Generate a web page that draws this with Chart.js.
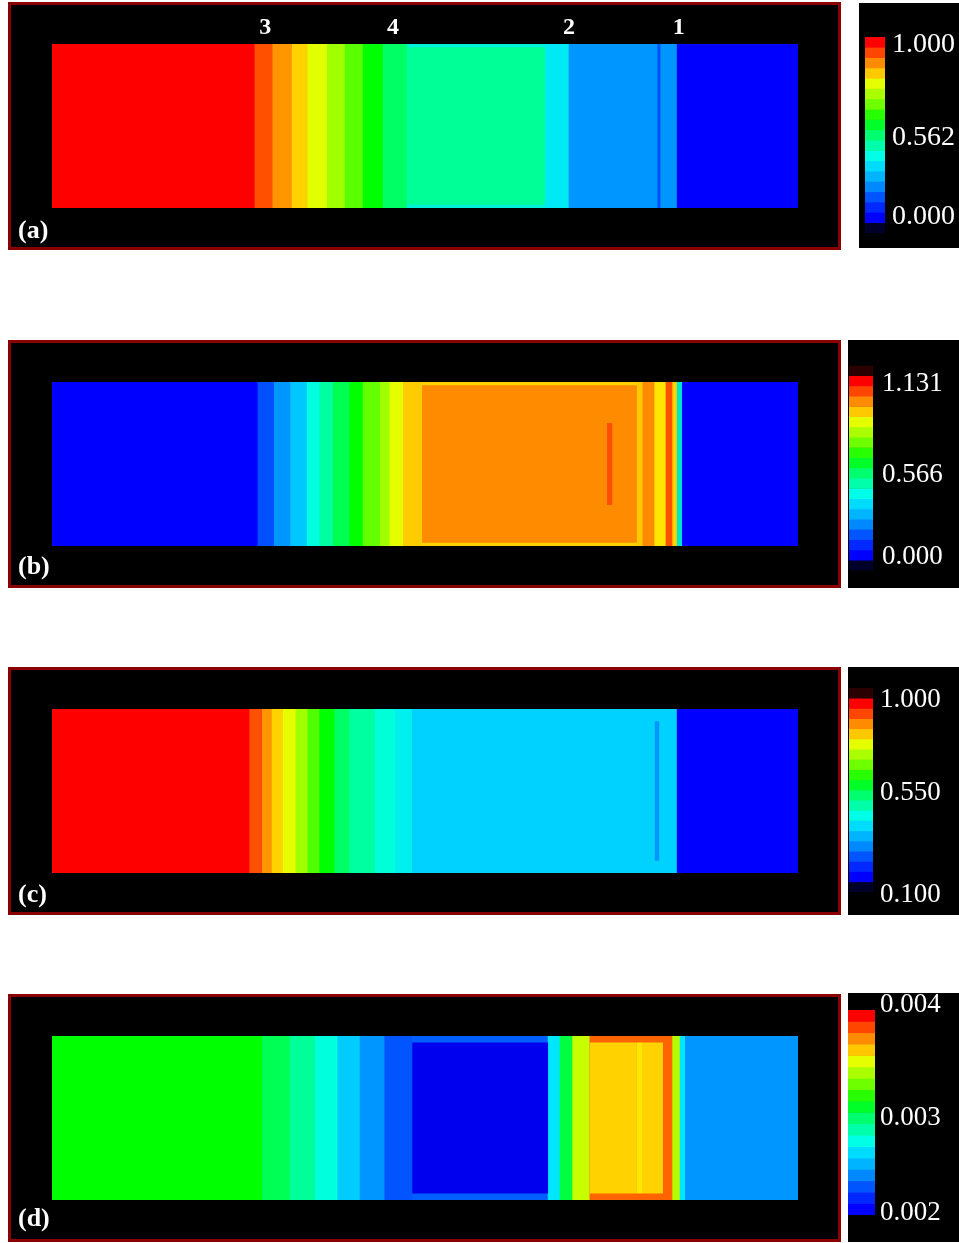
<!DOCTYPE html>
<html>
<head>
<meta charset="utf-8">
<title>Shock tube contours (a)-(d)</title>
<script src="https://cdn.jsdelivr.net/npm/chart.js@4.4.1/dist/chart.umd.min.js"></script>
<style>
  html, body { margin: 0; padding: 0; background: #fff; }
  body { width: 959px; height: 1243px; position: relative; overflow: hidden; }
  .panel { position: absolute; left: 8px; width: 833px; height: 248px; box-sizing: border-box;
           border: 3px solid #8b0000; background: #000; }
  .cbox { position: absolute; background: #000; }
  .holder { position: absolute; }
</style>
</head>
<body>

<div class="panel" style="top:2px"><div class="holder" style="left:0;top:0;width:827px;height:242px"><canvas id="fieldA"></canvas></div></div>
<div class="panel" style="top:340px"><div class="holder" style="left:0;top:0;width:827px;height:242px"><canvas id="fieldB"></canvas></div></div>
<div class="panel" style="top:667px"><div class="holder" style="left:0;top:0;width:827px;height:242px"><canvas id="fieldC"></canvas></div></div>
<div class="panel" style="top:994px"><div class="holder" style="left:0;top:0;width:827px;height:242px"><canvas id="fieldD"></canvas></div></div>

<div class="cbox" style="left:859px;top:3px;width:100px;height:245px"></div>
<div class="cbox" style="left:848px;top:340px;width:111px;height:248px"></div>
<div class="cbox" style="left:848px;top:667px;width:111px;height:248px"></div>
<div class="cbox" style="left:848px;top:993px;width:111px;height:249px"></div>

<div class="holder" id="barAbox"><canvas id="barA"></canvas></div>
<div class="holder" id="barBbox"><canvas id="barB"></canvas></div>
<div class="holder" id="barCbox"><canvas id="barC"></canvas></div>
<div class="holder" id="barDbox"><canvas id="barD"></canvas></div>

<script>
// positions are % of tube length (left end = 0, right end = 100)

// (a) contour bands
const aEdges  = [0, 27.2, 29.6, 32.2, 34.3, 36.9, 39.3, 41.7, 44.4, 47.6, 66.1, 69.3, 81.2, 81.6, 83.8, 100];
const aColors = ['#ff0000', '#ff5000', '#ff9600', '#ffd200', '#e1ff00', '#a0ff00', '#5aff00', '#00ff00',
                 '#00ff64', '#00f0d8', '#00eaf5', '#0096ff', '#0050ff', '#0096ff', '#0000ff'];
const aCoreEdges  = [47.6, 66.1];
const aCoreColors = ['#00ff96'];
const aWaves   = ['3', '4', '2', '1'];
const aWavePos = [28.6, 45.7, 69.3, 84.0];

// (b)
const bEdges  = [0, 27.6, 29.8, 32.0, 34.2, 35.9, 37.7, 39.9, 41.7, 44.0, 45.3, 47.1, 49.6, 78.4, 79.2, 80.8, 82.3, 83.2, 83.8, 84.5, 100];
const bColors = ['#0000ff', '#0050ff', '#0096ff', '#00c8ff', '#00ffe0', '#00ffa0', '#00ff50', '#00ff00',
                 '#64ff00', '#a0ff00', '#e6ff00', '#ffcc00', '#ffd200', '#ffc800', '#ff8c00', '#ffe600',
                 '#ff5000', '#ffd200', '#00e6c8', '#0000ff'];
const bCoreEdges  = [49.6, 78.4];
const bCoreColors = ['#ff8c00'];
const bLineEdges  = [74.4, 75.1];
const bLineColors = ['#ff5000'];

// (c)
const cEdges  = [0, 26.5, 28.2, 29.5, 31.0, 32.7, 34.3, 35.9, 37.9, 39.9, 43.3, 46.0, 48.3, 83.8, 100];
const cColors = ['#ff0000', '#ff5000', '#ff9600', '#ffd200', '#e6ff00', '#a0ff00', '#50ff00', '#00ff00',
                 '#00ff64', '#00ffa0', '#00ffd8', '#00f0f0', '#00d2ff', '#0000ff'];
const cLineEdges  = [80.8, 81.4];
const cLineColors = ['#0096ff'];

// (d)
const dEdges  = [0, 28.2, 31.9, 35.3, 38.3, 41.3, 44.6, 48.3, 66.5, 68.1, 69.8, 72.1, 83.2, 84.2, 84.9, 100];
const dColors = ['#00ff00', '#00ff55', '#00ff99', '#00ffdd', '#00ccff', '#0096ff', '#0055ff', '#0060ff',
                 '#00e6ff', '#00ff40', '#c8ff00', '#ff6400', '#b4ff00', '#00e6ff', '#0096ff'];
const dCoreEdges  = [48.3, 66.5, 68.1, 69.8, 72.1, 78.4, 79.2, 81.9];
const dCoreColors = ['#0000ee', null, null, null, '#ffd200', '#ffe600', '#ffd200'];

// colour bars (bottom to top)
const jetBands = ['#0000ff', '#0028ff', '#0055ff', '#0088ff', '#00b4ff', '#00dcff', '#00ffe6', '#00ffaa', '#00ff6e',
                  '#00ff28', '#28ff00', '#6eff00', '#aaff00', '#e6ff00', '#ffc800', '#ff8c00', '#ff4600', '#ff0000'];
const aTicks = ['0.000', '0.562', '1.000'];
const bTicks = ['0.000', '0.566', '1.131'];
const cTicks = ['0.100', '0.550', '1.000'];
const dTicks = ['0.002', '0.003', '0.004'];

const SERIF = '"Liberation Serif", "Times New Roman", serif';

function bands(edges, colors) {
  const data = [], bg = [];
  for (let i = 0; i < edges.length - 1; i++) {
    if (!colors[i]) continue;
    data.push({ x: [edges[i], edges[i + 1]], y: 'tube' });
    bg.push(colors[i]);
  }
  return { data, bg };
}

// white labels on the panel: (a) tag and wave numbers
const panelText = {
  id: 'panelText',
  afterDraw(chart, args, opts) {
    const ctx = chart.ctx;
    const xs = chart.scales.x;
    ctx.save();
    ctx.fillStyle = '#fff';
    ctx.textBaseline = 'middle';
    ctx.font = 'bold 26px ' + SERIF;
    ctx.textAlign = 'left';
    ctx.fillText(opts.tag, 7, opts.tagY);
    if (opts.waves) {
      ctx.font = 'bold 24px ' + SERIF;
      ctx.textAlign = 'center';
      opts.waves.forEach((w, i) => ctx.fillText(w, xs.getPixelForValue(opts.wavePos[i]), 23));
    }
    ctx.restore();
  }
};

function drawField(id, layers, text) {
  const datasets = layers.map((l, i) => {
    const b = bands(l.edges, l.colors);
    return {
      data: b.data,
      backgroundColor: b.bg,
      borderWidth: 0,
      barPercentage: l.height,
      categoryPercentage: 1,
      grouped: false,
      order: layers.length - i
    };
  });
  return new Chart(document.getElementById(id), {
    type: 'bar',
    data: { labels: ['tube'], datasets: datasets },
    options: {
      indexAxis: 'y',
      responsive: true,
      maintainAspectRatio: false,
      animation: false,
      layout: { padding: { left: 41, right: 40, top: 39, bottom: 39 } },
      scales: {
        x: { type: 'linear', min: 0, max: 100, display: false },
        y: { type: 'category', display: false }
      },
      plugins: { legend: { display: false }, tooltip: { enabled: false }, panelText: text }
    },
    plugins: [panelText]
  });
}

// colour bar: strip geometry in page pixels, ticks placed at given page y
function drawBar(id, colors, ticks, geo) {
  const P = 22;
  const box = document.getElementById(id + 'box');
  const w = 959 - geo.left;
  box.style.left = geo.left + 'px';
  box.style.top = (geo.top - P) + 'px';
  box.style.width = w + 'px';
  box.style.height = (geo.bottom - geo.top + 2 * P) + 'px';
  const n = colors.length;
  const levels = geo.tickY.map(y => (geo.bottom - y) / (geo.bottom - geo.top) * n);
  return new Chart(document.getElementById(id), {
    type: 'bar',
    data: {
      labels: ['bar'],
      datasets: [{
        data: colors.map((c, i) => ({ x: 'bar', y: [i, i + 1] })),
        backgroundColor: colors,
        borderWidth: 0,
        barPercentage: 1,
        categoryPercentage: 1
      }]
    },
    options: {
      responsive: true,
      maintainAspectRatio: false,
      animation: false,
      layout: { padding: { top: P, bottom: P, left: 0, right: 0 } },
      scales: {
        x: { type: 'category', display: false },
        y: {
          type: 'linear', position: 'right', min: 0, max: n,
          grid: { display: false, drawTicks: false }, border: { display: false },
          afterBuildTicks: s => { s.ticks = levels.map(v => ({ value: v })); },
          afterFit: s => { s.width = w - geo.width; },
          ticks: {
            autoSkip: false,
            color: '#fff',
            padding: geo.pad,
            font: { family: SERIF, size: geo.font, lineHeight: 1 },
            callback: (v, i) => ticks[i]
          }
        }
      },
      plugins: { legend: { display: false }, tooltip: { enabled: false } }
    }
  });
}

drawField('fieldA', [
  { edges: aEdges, colors: aColors, height: 1 },
  { edges: aCoreEdges, colors: aCoreColors, height: 0.96 }
], { tag: '(a)', tagY: 226, waves: aWaves, wavePos: aWavePos });

drawField('fieldB', [
  { edges: bEdges, colors: bColors, height: 1 },
  { edges: bCoreEdges, colors: bCoreColors, height: 0.96 },
  { edges: bLineEdges, colors: bLineColors, height: 0.5 }
], { tag: '(b)', tagY: 224 });

drawField('fieldC', [
  { edges: cEdges, colors: cColors, height: 1 },
  { edges: cLineEdges, colors: cLineColors, height: 0.85 }
], { tag: '(c)', tagY: 225 });

drawField('fieldD', [
  { edges: dEdges, colors: dColors, height: 1 },
  { edges: dCoreEdges, colors: dCoreColors, height: 0.92 }
], { tag: '(d)', tagY: 222 });

drawBar('barA', ['#00002a'].concat(jetBands), aTicks,
  { left: 865, width: 20, top: 37, bottom: 233, tickY: [217, 138, 45], pad: 7, font: 28 });
drawBar('barB', ['#00002a'].concat(jetBands, ['#2a0000']), bTicks,
  { left: 849, width: 24, top: 365, bottom: 571, tickY: [557, 475, 383], pad: 9, font: 27 });
drawBar('barC', ['#00002a'].concat(jetBands, ['#2a0000']), cTicks,
  { left: 849, width: 24, top: 688, bottom: 892, tickY: [895, 793, 700], pad: 7, font: 27 });
drawBar('barD', jetBands, dTicks,
  { left: 848, width: 27, top: 1010, bottom: 1215, tickY: [1213, 1118, 1005], pad: 5, font: 27 });
</script>
</body>
</html>
